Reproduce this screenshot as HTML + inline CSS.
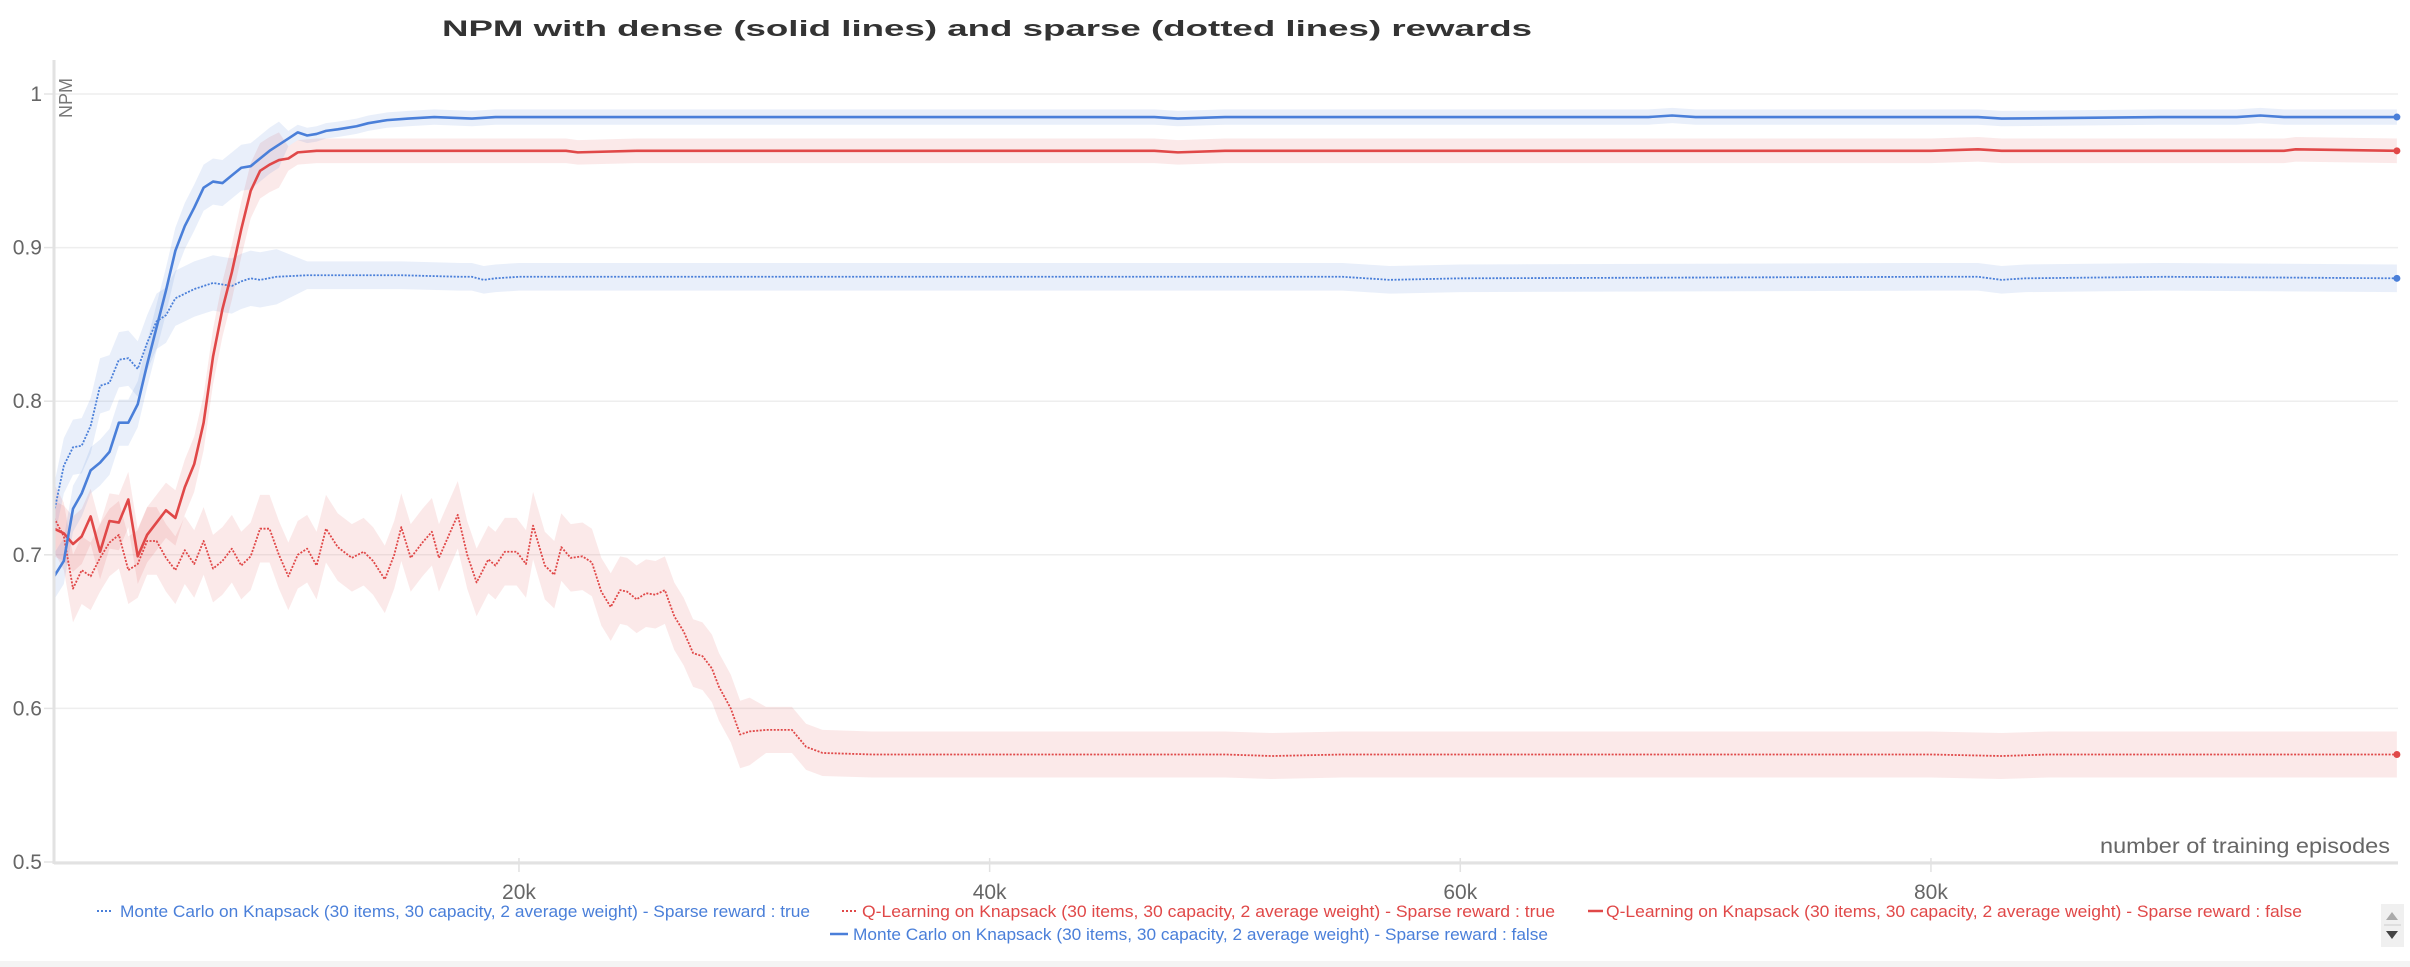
<!DOCTYPE html>
<html><head><meta charset="utf-8">
<style>
html,body{margin:0;padding:0;background:#fff;}
svg{display:block;font-family:"Liberation Sans",sans-serif;}
</style></head>
<body>
<svg id="chart" width="2410" height="967" viewBox="0 0 2410 967" xmlns="http://www.w3.org/2000/svg">
<text x="987" y="36" text-anchor="middle" font-size="22" font-weight="bold" fill="#333" textLength="1090" lengthAdjust="spacingAndGlyphs">NPM with dense (solid lines) and sparse (dotted lines) rewards</text>
<g id="grid"></g>
<g id="bands"></g>
<g id="lines"></g>
<g id="axes"></g>
<text transform="translate(72,118) rotate(-90)" font-size="18" fill="#777">NPM</text>
<text x="2390" y="853" text-anchor="end" font-size="21" fill="#666" textLength="290" lengthAdjust="spacingAndGlyphs">number of training episodes</text>
<g font-size="17">
  <g>
    <line x1="97" y1="911" x2="112" y2="911" stroke="#4a7fd9" stroke-width="2" stroke-dasharray="2,2"/>
    <text x="120" y="917" fill="#4a7fd9" textLength="690" lengthAdjust="spacingAndGlyphs">Monte Carlo on Knapsack (30 items, 30 capacity, 2 average weight) - Sparse reward : true</text>
  </g>
  <g>
    <line x1="842" y1="911" x2="857" y2="911" stroke="#e04848" stroke-width="2" stroke-dasharray="2,2"/>
    <text x="862" y="917" fill="#e04848" textLength="693" lengthAdjust="spacingAndGlyphs">Q-Learning on Knapsack (30 items, 30 capacity, 2 average weight) - Sparse reward : true</text>
  </g>
  <g>
    <line x1="1588" y1="911" x2="1603" y2="911" stroke="#e04848" stroke-width="2.5"/>
    <text x="1606" y="917" fill="#e04848" textLength="696" lengthAdjust="spacingAndGlyphs">Q-Learning on Knapsack (30 items, 30 capacity, 2 average weight) - Sparse reward : false</text>
  </g>
  <g>
    <line x1="830" y1="934" x2="848" y2="934" stroke="#4a7fd9" stroke-width="2.5"/>
    <text x="853" y="940" fill="#4a7fd9" textLength="695" lengthAdjust="spacingAndGlyphs">Monte Carlo on Knapsack (30 items, 30 capacity, 2 average weight) - Sparse reward : false</text>
  </g>
</g>
<g>
  <rect x="2381" y="904" width="23" height="43" fill="#f0f0f0"/>
  <line x1="2384" y1="925" x2="2401" y2="925" stroke="#ccc" stroke-width="1"/>
  <polygon points="2386,920 2398,920 2392,912" fill="#aaa"/>
  <polygon points="2386,931 2398,931 2392,939" fill="#444"/>
</g>
<rect x="0" y="961" width="2410" height="6" fill="#f4f4f4"/>
</svg>
<script>
// ---- data (x in thousands of episodes) ----
const earlyX = [0.25,0.66,1.05,1.42,1.8,2.2,2.6,3.0,3.4,3.8,4.2,4.6,5.0,5.4,5.8,6.2,6.6,7.0,7.4,7.8,8.2,8.6,9.0,9.4,9.8,10.2,10.6];
const mcDenseX = earlyX.concat([11.0,11.4,11.8,12.3,12.7,13.1,13.6,14.4,15.3,16.4,18,19,20,22,25,30,40,47,48,50,60,68,69,70,80,82,83,90,93,94,95,99.8]);
const mcDenseY = [0.686,0.696,0.73,0.74,0.755,0.76,0.767,0.786,0.786,0.798,0.824,0.848,0.872,0.898,0.914,0.926,0.939,0.943,0.942,0.947,0.952,0.953,0.958,0.963,0.967,0.971,0.975,0.973,0.974,0.976,0.977,0.978,0.979,0.981,0.983,0.984,0.985,0.984,0.985,0.985,0.985,0.985,0.985,0.985,0.985,0.984,0.985,0.985,0.985,0.986,0.985,0.985,0.985,0.984,0.985,0.985,0.986,0.985,0.985];
const mcSparseX = earlyX.slice(0,23).concat([9.7,11,15,17.5,18,18.5,19,20,30,40,55,56,57,60,80,82,83,84,90,99.8]);
const mcSparseY = [0.728,0.758,0.77,0.771,0.784,0.81,0.812,0.827,0.828,0.821,0.838,0.852,0.856,0.867,0.87,0.873,0.875,0.877,0.876,0.875,0.878,0.88,0.879,0.881,0.882,0.882,0.881,0.881,0.879,0.88,0.881,0.881,0.881,0.881,0.88,0.879,0.88,0.881,0.881,0.879,0.88,0.881,0.88];
const qlDenseX = earlyX.concat([11.4,12.7,15,20,22,22.5,25,40,47,48,50,70,80,82,83,90,95,95.5,99.8]);
const qlDenseY = [0.717,0.714,0.707,0.712,0.725,0.702,0.722,0.721,0.736,0.699,0.713,0.721,0.729,0.724,0.744,0.759,0.786,0.829,0.86,0.884,0.912,0.937,0.95,0.954,0.957,0.958,0.962,0.963,0.963,0.963,0.963,0.963,0.962,0.963,0.963,0.963,0.962,0.963,0.963,0.963,0.964,0.963,0.963,0.963,0.964,0.963];
const qlSparseX = earlyX.concat([11.0,11.4,11.8,12.3,12.9,13.4,13.8,14.3,14.7,15.0,15.4,15.9,16.3,16.6,17.0,17.4,17.8,18.2,18.7,19.0,19.4,19.9,20.3,20.6,21.1,21.5,21.8,22.2,22.7,23.1,23.5,23.9,24.3,24.6,25.0,25.4,25.8,26.2,26.6,27.0,27.4,27.8,28.2,28.5,29.0,29.4,29.8,30.5,31.6,32.2,32.9,35,40,45,50,52,55,60,70,80,83,85,90,99.8]);
const qlSparseY = [0.724,0.712,0.678,0.69,0.686,0.698,0.708,0.713,0.69,0.694,0.709,0.709,0.698,0.69,0.703,0.694,0.709,0.691,0.696,0.704,0.693,0.699,0.717,0.717,0.7,0.686,0.7,0.704,0.693,0.717,0.705,0.698,0.702,0.696,0.684,0.7,0.718,0.698,0.708,0.715,0.698,0.712,0.726,0.7,0.682,0.697,0.693,0.702,0.702,0.694,0.719,0.693,0.687,0.705,0.698,0.699,0.695,0.676,0.666,0.677,0.676,0.671,0.675,0.674,0.677,0.66,0.65,0.636,0.634,0.626,0.614,0.6,0.583,0.585,0.586,0.586,0.575,0.571,0.57,0.57,0.57,0.57,0.569,0.57,0.57,0.57,0.57,0.569,0.57,0.57,0.57];
const yTicks = [0.5,0.6,0.7,0.8,0.9,1];
const yTickLabels = ["0.5","0.6","0.7","0.8","0.9","1"];
const xTicks = [20,40,60,80];
const xTickLabels = ["20k","40k","60k","80k"];

// ---- scales ----
const X0 = 48.3, XS = 23.533;
const Y1 = 94, YS = 1536;
const sx = v => X0 + v * XS;
const sy = v => Y1 + (1 - v) * YS;
const NS = 'http://www.w3.org/2000/svg';
function mk(tag, attrs, parent){
  const e = document.createElementNS(NS, tag);
  for (const k in attrs) e.setAttribute(k, attrs[k]);
  parent.appendChild(e); return e;
}
const grid = document.getElementById('grid');
const axes = document.getElementById('axes');
const bands = document.getElementById('bands');
const lines = document.getElementById('lines');

yTicks.forEach((t,i) => {
  const g = mk('line',{x1:54,x2:2398,y1:sy(t),y2:sy(t),stroke:'#eee','stroke-width':1.5},grid);
  
  
  const tk = mk('line',{x1:44,x2:54,y1:sy(t),y2:sy(t),stroke:'#e4e4e4','stroke-width':1.5},axes);
  
  
  const lb = mk('text',{x:42,y:sy(t)+7,'text-anchor':'end','font-size':21,fill:'#666'},axes);
  lb.textContent = yTickLabels[i];
  
  
});
const ya = mk('line',{x1:54,x2:54,y1:60,y2:864,stroke:'#e2e2e2','stroke-width':3},axes);


const xa = mk('line',{x1:54,x2:2398,y1:863,y2:863,stroke:'#e2e2e2','stroke-width':3},axes);


xTicks.forEach((t,i) => {
  const tk = mk('line',{x1:sx(t),x2:sx(t),y1:858,y2:872,stroke:'#e2e2e2','stroke-width':1.5},axes);
  
  
  const lb = mk('text',{x:sx(t),y:899,'text-anchor':'middle','font-size':21,fill:'#666'},axes);
  lb.textContent = xTickLabels[i];
  
  
});

function series(name, xs, ys, color, fill, dashed, hwEarly, hwLate, cut){
  const n = Math.min(xs.length, ys.length);
  const hw = i => xs[i] < cut ? hwEarly : hwLate;
  let up = [], dn = [];
  for (let i=0;i<n;i++){ up.push(sx(xs[i])+','+sy(ys[i]+hw(i))); dn.unshift(sx(xs[i])+','+sy(ys[i]-hw(i))); }
  const b = mk('polygon',{points:up.concat(dn).join(' '),fill:fill,stroke:'none'},bands);
  
  
  let pts = [];
  for (let i=0;i<n;i++) pts.push(sx(xs[i])+','+sy(ys[i]));
  const attrs = {points:pts.join(' '),fill:'none',stroke:color,'stroke-width':dashed?1.8:2.6,'stroke-linejoin':'round'};
  if (dashed) attrs['stroke-dasharray'] = '2,1.5';
  const l = mk('polyline',attrs,lines);
  
  
  const d = mk('circle',{cx:sx(xs[n-1]),cy:sy(ys[n-1]),r:3.5,fill:color},lines);
  
  
}
const BLUE='#4a7fd9', RED='#e04848', BF='rgba(74,127,217,0.12)', RF='rgba(224,72,72,0.12)';
series('ql-sparse', qlSparseX, qlSparseY, RED, RF, true, 0.022, 0.015, 30);
series('mc-sparse', mcSparseX, mcSparseY, BLUE, BF, true, 0.018, 0.009, 10);
series('ql-dense', qlDenseX, qlDenseY, RED, RF, false, 0.018, 0.008, 10);
series('mc-dense', mcDenseX, mcDenseY, BLUE, BF, false, 0.015, 0.005, 10);
</script>
</body></html>
